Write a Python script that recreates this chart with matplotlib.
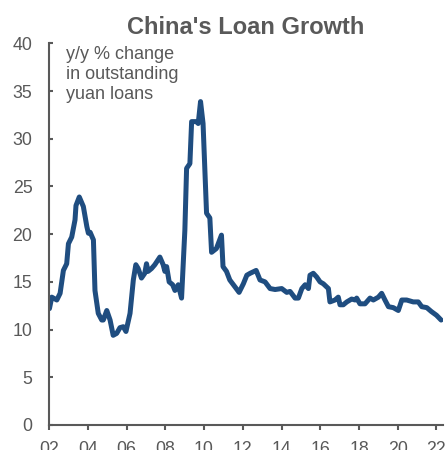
import numpy as np
import matplotlib
matplotlib.use("Agg")
import matplotlib.pyplot as plt

# y/y % change in outstanding yuan loans (decimal year, value)
years = [
    2002.02, 2002.14, 2002.40, 2002.57, 2002.74, 2002.91, 2003.00, 2003.17,
    2003.34, 2003.39, 2003.56, 2003.77, 2003.95, 2004.03, 2004.12, 2004.29,
    2004.37, 2004.54, 2004.72, 2004.80, 2004.98, 2005.15, 2005.31, 2005.49,
    2005.66, 2005.83, 2005.97, 2006.18, 2006.35, 2006.48, 2006.60, 2006.77,
    2006.94, 2007.03, 2007.11, 2007.29, 2007.46, 2007.72, 2007.89, 2007.98,
    2008.07, 2008.20, 2008.38, 2008.50, 2008.67, 2008.84, 2009.01, 2009.10,
    2009.27, 2009.36, 2009.61, 2009.70, 2009.82, 2009.95, 2010.13, 2010.30,
    2010.39, 2010.64, 2010.90, 2010.98, 2011.16, 2011.33, 2011.59, 2011.81,
    2012.03, 2012.21, 2012.38, 2012.69, 2012.89, 2013.15, 2013.41, 2013.67,
    2014.01, 2014.27, 2014.44, 2014.70, 2014.87, 2015.05, 2015.22, 2015.39,
    2015.47, 2015.64, 2015.82, 2015.99, 2016.16, 2016.42, 2016.50, 2016.76,
    2016.93, 2017.02, 2017.19, 2017.37, 2017.62, 2017.80, 2017.88, 2018.05,
    2018.31, 2018.57, 2018.74, 2019.00, 2019.17, 2019.34, 2019.52, 2019.77,
    2020.03, 2020.21, 2020.46, 2020.80, 2021.06, 2021.24, 2021.50, 2021.73,
    2022.00, 2022.24,
]
loan_growth = [
    12.2, 13.4, 13.1, 13.8, 16.2, 16.9, 19.0, 19.7,
    21.5, 23.0, 23.9, 22.9, 20.8, 20.1, 20.2, 19.4,
    14.1, 11.7, 11.0, 11.0, 12.0, 11.0, 9.4, 9.6,
    10.2, 10.3, 9.8, 11.7, 15.2, 16.8, 16.4, 15.4,
    15.9, 16.9, 16.1, 16.4, 16.8, 17.6, 16.8, 16.1,
    16.6, 15.0, 14.7, 14.1, 14.7, 13.3, 20.4, 26.9,
    27.4, 31.8, 31.8, 31.6, 33.9, 31.6, 22.2, 21.7,
    18.1, 18.5, 19.9, 16.6, 16.1, 15.2, 14.5, 13.9,
    14.8, 15.7, 15.9, 16.2, 15.2, 15.0, 14.3, 14.2,
    14.3, 13.9, 14.0, 13.3, 13.3, 14.3, 14.7, 14.3,
    15.7, 15.9, 15.5, 15.0, 14.8, 14.3, 12.9, 13.1,
    13.4, 12.6, 12.6, 12.9, 13.2, 13.1, 13.3, 12.7,
    12.7, 13.3, 13.1, 13.4, 13.8, 13.1, 12.4, 12.3,
    12.0, 13.1, 13.1, 12.9, 12.9, 12.4, 12.3, 11.9,
    11.5, 11.0,
]
tick_years = list(range(2002, 2023, 2))
tick_labels = [f"{y % 100:02d}" for y in tick_years]

gray = "#595959"
plt.rcParams["font.family"] = ["Liberation Sans", "DejaVu Sans"]

fig = plt.figure(figsize=(4.46, 4.50), dpi=100)
ax = fig.add_axes([0.110, 0.0556, 0.883, 0.848])

ax.plot(years, loan_growth, color="#1f4d80", lw=3.6, solid_joinstyle="round",
        solid_capstyle="round")

ax.set_xlim(2002, 2022.33)
ax.set_ylim(0, 40)
ax.set_yticks(range(0, 41, 5))
ax.set_xticks(tick_years)
ax.set_xticklabels(tick_labels)

for side in ["top", "right"]:
    ax.spines[side].set_visible(False)
for side in ["left", "bottom"]:
    ax.spines[side].set_color(gray)
    ax.spines[side].set_linewidth(1.5)

ax.tick_params(axis="y", direction="in", length=3, width=1.5, color=gray,
               labelcolor=gray, labelsize=12.8, pad=12)
ax.tick_params(axis="x", direction="out", length=3.6, width=1.5, color=gray,
               labelcolor=gray, labelsize=12.8, pad=8)

ax.set_title("China's Loan Growth", fontsize=17, fontweight="bold",
             color=gray, pad=7)
ax.text(0.043, 0.992, "y/y % change\nin outstanding\nyuan loans",
        transform=ax.transAxes, ha="left", va="top", fontsize=13,
        color=gray, linespacing=1.22)

fig.savefig("out.png", dpi=100)
